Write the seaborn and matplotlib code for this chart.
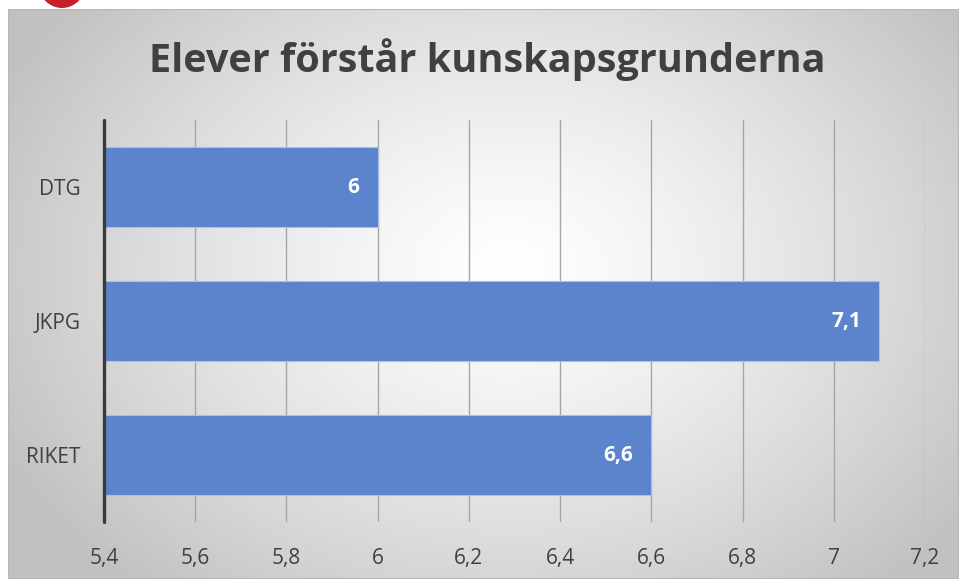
import numpy as np
import pandas as pd
import matplotlib
matplotlib.use("Agg")
import matplotlib.pyplot as plt
import seaborn as sns
from matplotlib.patches import Ellipse, Rectangle

# Data
categories = ["DTG", "JKPG", "RIKET"]
values = [6.0, 7.1, 6.6]
tick_vals = [5.4, 5.6, 5.8, 6.0, 6.2, 6.4, 6.6, 6.8, 7.0, 7.2]

df = pd.DataFrame({"Skola": categories, "Värde": values})

sns.set_theme(style="white")
plt.rcParams["font.family"] = ["Open Sans", "DejaVu Sans"]

W, H = 959, 579
fig = plt.figure(figsize=(W / 100, H / 100), dpi=100)
fig.patch.set_facecolor("white")

# radial gradient background for the chart frame
bg = fig.add_axes([8 / W, 0, 1 - 8 / W, 1 - 9 / H], zorder=0)
yy, xx = np.mgrid[0:570, 0:951]
cx, cy = 500, 260
d = np.sqrt(((xx - cx) / 560) ** 2 + ((yy - cy) / 420) ** 2)
g = np.clip(1.0 - 0.24 * d ** 1.3, 0.76, 1.0)
bg.imshow(np.dstack([g, g, g]), aspect="auto", extent=[0, 1, 0, 1], origin="upper")
bg.add_patch(Rectangle((0, 0), 1, 1, transform=bg.transAxes, fill=False,
                       edgecolor="#b8b8b8", lw=1.5))
bg.set_axis_off()

# red circle peeking at the top
fig.patches.append(Ellipse((62 / W, 1 + 15 / H), 46 / W, 46 / H, transform=fig.transFigure,
                           facecolor="#c8202a", edgecolor="none", zorder=5))

ax = fig.add_axes([104 / W, 1 - 522 / H, (925 - 104) / W, (522 - 120) / H], zorder=1)
ax.patch.set_alpha(0)
sns.barplot(data=df, y="Skola", x="Värde", orient="h", color="#5b84cd",
            saturation=1, width=0.6, edgecolor="#a9bfe6", linewidth=0.8, ax=ax,
            zorder=3)
ax.set_xlim(5.4, 7.2)
ax.set_ylim(2.5, -0.5)
for t in tick_vals[1:]:
    ax.axvline(t, color="#a6a6a6", lw=1, zorder=1)
ax.axvline(5.4, color="#3a3a3a", lw=2.4, zorder=4, clip_on=False)
for s in ax.spines.values():
    s.set_visible(False)
ax.set_xticks(tick_vals)
ax.set_xticklabels([f"{v:g}".replace(".", ",") for v in tick_vals])
ax.tick_params(axis="x", length=0, pad=19, labelsize=15, labelcolor="#404040")
ax.tick_params(axis="y", length=0, pad=17, labelsize=15, labelcolor="#404040")
ax.set_xlabel("")
ax.set_ylabel("")

for i, v in enumerate(values):
    ax.text(v - 0.04, i, f"{v:g}".replace(".", ","), color="white",
            fontsize=15, fontweight="bold", ha="right", va="center", zorder=5)

fig.text(487 / W, 1 - 60 / H, "Elever förstår kunskapsgrunderna", ha="center",
         va="center", fontsize=28.5, fontweight="bold", color="#404040")

fig.savefig("out.png", dpi=100)
